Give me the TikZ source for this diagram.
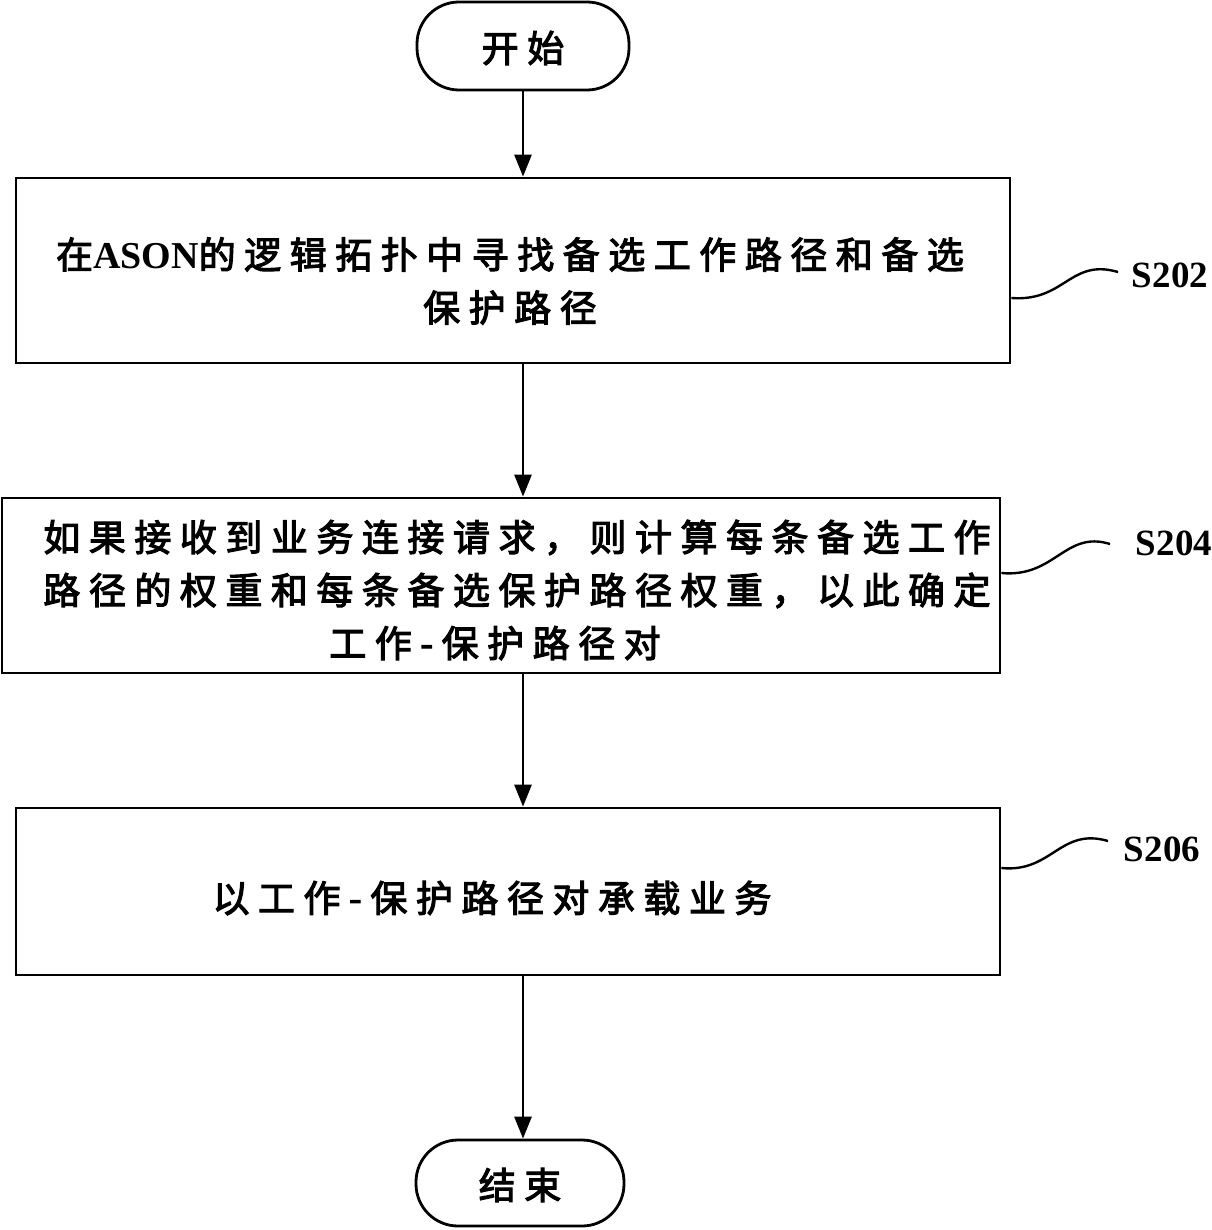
\documentclass[tikz,border=0pt]{standalone}
\usepackage{fontspec}
\usetikzlibrary{arrows.meta}
\newfontfamily\cjk[FakeBold=3,LetterSpace=23]{Noto Sans CJK SC}
\newfontfamily\lat{Liberation Serif}
\tikzset{
  box/.style={draw,line width=2.8pt,rectangle,inner sep=0pt},
  term/.style={draw,line width=2.8pt,rectangle,rounded corners=42pt,inner sep=0pt},
  txt/.style={inner sep=0pt,align=center,font=\cjk\fontsize{37}{53}\selectfont},
  lbl/.style={inner sep=0pt,font=\lat\bfseries\fontsize{37}{40}\selectfont},
  flow/.style={line width=2.8pt,-{Triangle[length=22pt,width=17pt]}},
  squig/.style={line width=2.4pt}
}
\begin{document}
\begin{tikzpicture}[x=1pt,y=-1pt]
\useasboundingbox (0,0) rectangle (1211,1230);
\node[term,minimum width=212pt,minimum height=88pt] (start) at (523,46) {};
\node[txt] (tstart) at (523,48) {开始};
\node[box,minimum width=994pt,minimum height=185pt] (b1) at (513,270.5) {};
\node[txt] (t1) at (510,281) {在{\lat\bfseries\fontsize{38}{53}\selectfont ASON}的逻辑拓扑中寻找备选工作路径和备选\\保护路径};
\node[box,minimum width=998pt,minimum height=175pt] (b2) at (501,585.5) {};
\node[txt] (t2) at (517,590) {如果接收到业务连接请求，则计算每条备选工作\\路径的权重和每条备选保护路径权重，以此确定\\\hspace*{-44pt}工作-保护路径对};
\node[box,minimum width=984pt,minimum height=167pt] (b3) at (508,891.5) {};
\node[txt] (t3) at (492,898) {以工作-保护路径对承载业务};
\node[term,minimum width=208pt,minimum height=86pt] (end) at (520,1183) {};
\node[txt] (tend) at (520,1185) {结束};
\draw[flow] (start.south) -- (start.south |- b1.north);
\draw[flow] (b1.south -| start) -- (b2.north -| start);
\draw[flow] (b2.south -| start) -- (b3.north -| start);
\draw[flow] (b3.south -| start) -- (end.north -| start);
\node[lbl] (s202) at (1170,275) {S202};
\node[lbl] (s204) at (1174,543) {S204};
\node[lbl] (s206) at (1162,849) {S206};
\coordinate (c1) at (1118,272);
\coordinate (c2) at (1110,544);
\coordinate (c3) at (1108,841);
\draw[squig] (b1.east |- 0,298) .. controls (1065,302) and (1070,258) .. (c1);
\draw[squig] (b2.east |- 0,573) .. controls (1055,578) and (1065,530) .. (c2);
\draw[squig] (b3.east |- 0,868) .. controls (1052,873) and (1060,827) .. (c3);
\end{tikzpicture}
\end{document}
